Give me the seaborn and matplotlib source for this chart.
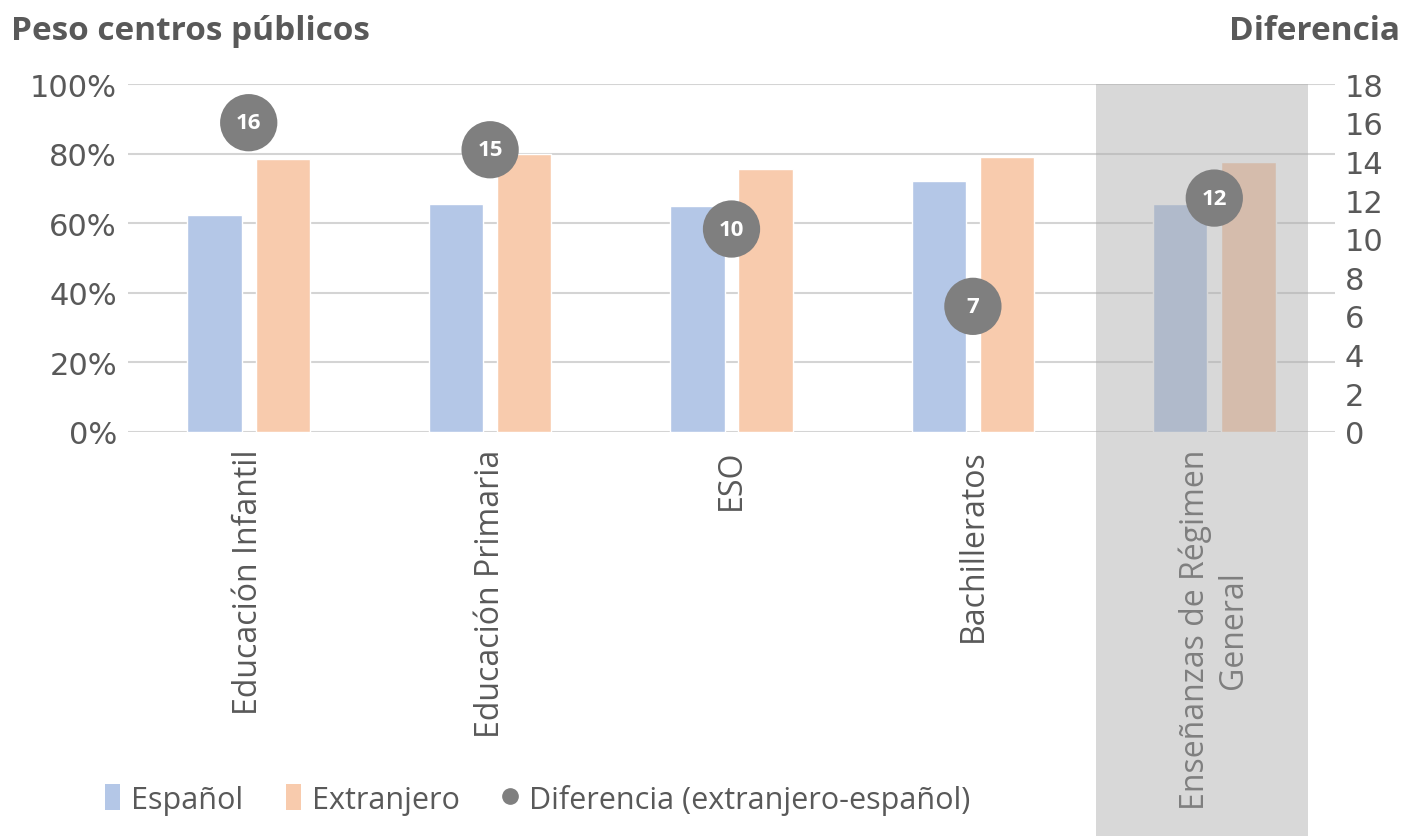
import numpy as np
import pandas as pd
import seaborn as sns
from matplotlib import pyplot as plt
from matplotlib.patches import Patch, Rectangle
from matplotlib.lines import Line2D
from matplotlib.transforms import blended_transform_factory

categorias = ["Educación Infantil", "Educación Primaria", "ESO", "Bachilleratos",
              "Enseñanzas de Régimen\nGeneral"]
espanol = [62.5, 65.5, 65.0, 72.0, 65.5]
extranjero = [78.5, 80.0, 75.5, 79.0, 77.5]
diferencia = [16.0, 14.6, 10.5, 6.5, 12.1]
etiquetas_dif = ["16", "15", "10", "7", "12"]

azul = "#b4c7e7"
naranja = "#f8cbad"
gris_punto = "#7f7f7f"
gris_texto = "#595959"

df = pd.DataFrame({
    "categoria": categorias * 2,
    "valor": espanol + extranjero,
    "grupo": ["Español"] * 5 + ["Extranjero"] * 5,
})

sns.set_style("white")
plt.rcParams["font.family"] = ["Open Sans", "DejaVu Sans"]

fig = plt.figure(figsize=(14.1, 8.37), dpi=100)
ax = fig.add_axes([0.0908, 0.4827, 0.856, 0.4157])

sns.barplot(data=df, x="categoria", y="valor", hue="grupo",
            palette=[azul, naranja], saturation=1, width=0.564, gap=0.2,
            legend=False, ax=ax, zorder=2)

ax.set_xlim(-0.5, 4.5)
ax.set_ylim(0, 100)
ax.set_yticks(np.arange(0, 101, 20))
ax.set_yticklabels([f"{v}%" for v in range(0, 101, 20)], fontsize=22,
                   color=gris_texto, family="DejaVu Sans")
ax.yaxis.grid(True, color="#d4d4d4", linewidth=1.5, zorder=0)
ax.set_axisbelow(True)
ax.set_xticks(range(len(categorias)))
ax.set_xticklabels(categorias, rotation=90, va="top", ha="center",
                   multialignment="center", fontsize=23, color=gris_texto)
ax.set_xlabel("")
ax.set_ylabel("")
ax.tick_params(axis="y", length=0, pad=8)
ax.tick_params(axis="x", length=0, pad=12)
for s in ax.spines.values():
    s.set_visible(False)

# banda gris para el total
trans = blended_transform_factory(ax.transData, fig.transFigure)
ax.add_patch(Rectangle((3.51, 0), 0.88, 0.8984, transform=trans,
                       facecolor="#acacac", alpha=0.46, edgecolor="none",
                       clip_on=False, zorder=3))

ax2 = ax.twinx()
sns.scatterplot(x=np.arange(len(categorias)), y=diferencia, s=1700,
                color=gris_punto, edgecolor="none", ax=ax2, zorder=5)
for i, (d, t) in enumerate(zip(diferencia, etiquetas_dif)):
    ax2.text(i, d, t, ha="center", va="center", color="white",
             fontsize=16, fontweight="bold", zorder=6)
ax2.set_ylim(0, 18)
ax2.set_yticks(np.arange(0, 19, 2))
ax2.set_yticklabels([str(v) for v in range(0, 19, 2)], fontsize=22,
                    color=gris_texto, family="DejaVu Sans")
ax2.tick_params(axis="y", length=0, pad=7)
ax2.set_xlim(-0.5, 4.5)
for s in ax2.spines.values():
    s.set_visible(False)

fig.text(0.008, 0.962, "Peso centros públicos", fontsize=24, fontweight="bold",
         color=gris_texto, ha="left", va="center")
fig.text(0.993, 0.962, "Diferencia", fontsize=24, fontweight="bold",
         color=gris_texto, ha="right", va="center")

handles = [
    Patch(facecolor=azul, edgecolor="none"),
    Patch(facecolor=naranja, edgecolor="none"),
    Line2D([], [], marker="o", linestyle="none", color=gris_punto, markersize=11),
]
fig.legend(handles, ["Español", "Extranjero", "Diferencia (extranjero-español)"],
           loc="center left", bbox_to_anchor=(0.055, 0.044), ncol=3, frameon=False,
           fontsize=22, labelcolor=gris_texto, handlelength=0.5, handleheight=0.9,
           handletextpad=0.35, columnspacing=1.4)

fig.savefig("out.png", dpi=100)
